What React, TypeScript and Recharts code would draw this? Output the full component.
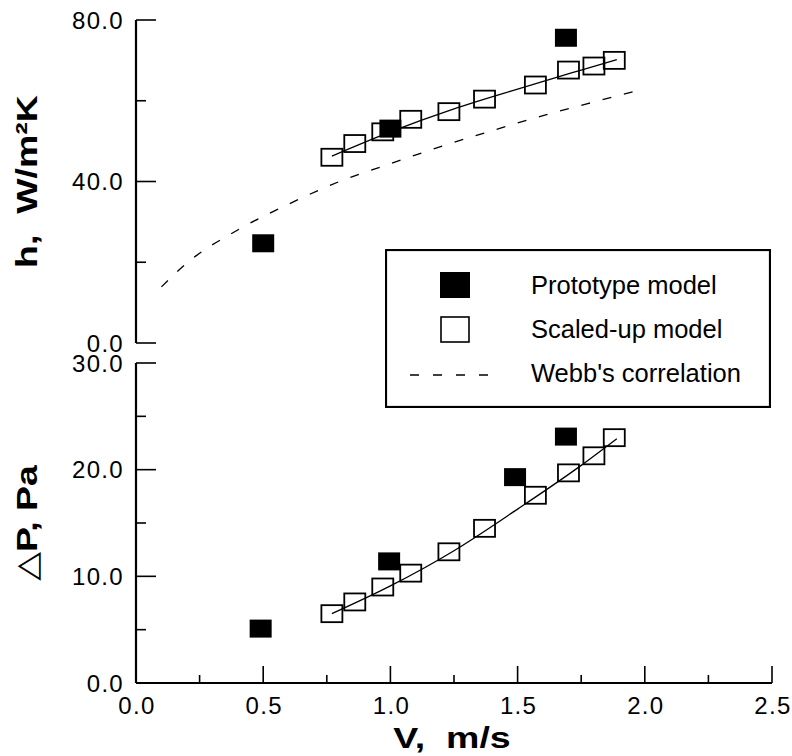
import { ComposedChart, Scatter, Line, XAxis, YAxis, Legend } from 'recharts';

const protoTopV = [0.5, 1.0, 1.69];
const protoTopH = [24.7, 53.1, 75.6];
const protoBotV = [0.49, 0.995, 1.49, 1.69];
const protoBotDP = [5.1, 11.4, 19.3, 23.1];

const scaledV = [0.77, 0.86, 0.97, 1.08, 1.23, 1.37, 1.57, 1.7, 1.8, 1.88];
const scaledH = [46.0, 49.4, 52.3, 55.4, 57.3, 60.4, 63.9, 67.6, 68.6, 70.0];
const scaledDP = [6.5, 7.6, 9.0, 10.3, 12.3, 14.5, 17.6, 19.7, 21.3, 23.0];

const fitV = [0.77, 1.0, 1.25, 1.5, 1.75, 1.89];
const fitH = [46.3, 52.3, 58.0, 62.9, 67.6, 70.2];
const fitDP = [6.5, 9.1, 12.4, 16.3, 20.4, 22.9];

const webbV = [0.1, 0.2, 0.4, 0.6, 0.8, 1.0, 1.2, 1.4, 1.6, 1.8, 1.97];
const webbH = [13.9, 19.8, 28.0, 34.4, 40.0, 44.4, 48.7, 52.6, 56.3, 59.7, 62.5];

const xTicks = [0, 0.25, 0.5, 0.75, 1.0, 1.25, 1.5, 1.75, 2.0, 2.25, 2.5];
const hTicks = [0, 20, 40, 60, 80];
const hMajor = [0, 40, 80];
const dpTicks = [0, 5, 10, 15, 20, 25, 30];
const dpMajor = [0, 10, 20, 30];

const legendLabels = ['Prototype model', 'Scaled-up model', "Webb's correlation"];

const zip = (xs: number[], ys: number[]) => xs.map((x, i) => ({ x, y: ys[i] }));

const FONT = '"Liberation Sans", Arial, Helvetica, sans-serif';
const AXIS = { stroke: '#000', strokeWidth: 2.2 };

const FilledBox = (p: any) => (
  <rect x={p.cx - 11} y={p.cy - 9} width={22} height={18} fill="#000" />
);
const OpenBox = (p: any) => (
  <rect x={p.cx - 10.5} y={p.cy - 8.5} width={21} height={17} fill="none" stroke="#000" strokeWidth={1.8} />
);

const YTick = (props: any, majors: number[]) => {
  const { x, y, payload } = props;
  const major = majors.includes(payload.value);
  return (
    <g>
      <line x1={x} x2={x + (major ? 20 : 10)} y1={y} y2={y} stroke="#000" strokeWidth={1.6} />
      {major && (
        <text x={x - 12} y={y} dy="0.36em" textAnchor="end" fontSize={24} letterSpacing={1.3} fontFamily={FONT} fill="#000">
          {payload.value.toFixed(1)}
        </text>
      )}
    </g>
  );
};

const XTick = (props: any) => {
  const { x, y, payload } = props;
  const major = Math.abs(payload.value * 2 - Math.round(payload.value * 2)) < 1e-6;
  return (
    <g>
      <line x1={x} x2={x} y1={y} y2={y - (major ? 17 : 8)} stroke="#000" strokeWidth={1.6} />
      {major && (
        <text x={x + 1} y={y + 31} textAnchor="middle" fontSize={24} letterSpacing={1.3} fontFamily={FONT} fill="#000">
          {payload.value.toFixed(1)}
        </text>
      )}
    </g>
  );
};

const YTitle = (vb: any, parts: React.ReactNode) => (
  <g transform={`translate(37, ${vb.y + vb.height / 2}) rotate(-90) scale(1.25, 1)`}>
    <text x={0} y={0} textAnchor="middle" fontSize={30} fontWeight="bold" fontFamily={FONT} fill="#000" style={{ whiteSpace: 'pre' }}>
      {parts}
    </text>
  </g>
);

const LegendBox = () => (
  <svg width={386} height={159} style={{ display: 'block' }}>
    <rect x={1} y={1} width={384} height={157} fill="#fff" stroke="#000" strokeWidth={2.2} />
    <rect x={55} y={23} width={30} height={26} fill="#000" />
    <rect x={56} y={68} width={28} height={25} fill="#fff" stroke="#000" strokeWidth={1.6} />
    <line x1={25} x2={105} y1={126} y2={126} stroke="#000" strokeWidth={1.3} strokeDasharray="9 14" />
    {legendLabels.map((t, i) => (
      <text key={t} x={146} y={45 + i * 44} fontSize={25.5} fontFamily={FONT} fill="#000">
        {t}
      </text>
    ))}
  </svg>
);

export default function App() {
  return (
    <div style={{ position: 'absolute', left: 0, top: 0, width: 792, height: 756, background: '#fff' }}>
      <div style={{ position: 'absolute', left: 0, top: 0 }}>
        <ComposedChart width={792} height={363} margin={{ top: 20, right: 20, bottom: 20, left: 0 }}>
          <XAxis type="number" dataKey="x" domain={[0, 2.5]} orientation="top" height={0} tick={false} tickLine={false} axisLine={AXIS} />
          <YAxis
            type="number"
            dataKey="y"
            domain={[0, 80]}
            ticks={hTicks}
            interval={0}
            width={136}
            tickSize={0}
            tickMargin={0}
            tickLine={false}
            axisLine={AXIS}
            tick={(p: any) => YTick(p, hMajor)}
            label={{ content: (p: any) => YTitle(p.viewBox, 'h,  W/m²K') }}
          />
          <YAxis yAxisId="r" orientation="right" type="number" domain={[0, 80]} width={0} tick={false} tickLine={false} axisLine={AXIS} />
          <Line data={zip(webbV, webbH)} dataKey="y" type="monotone" stroke="#000" strokeWidth={1.3} strokeDasharray="9 13" dot={false} isAnimationActive={false} />
          <Scatter data={zip(scaledV, scaledH)} shape={OpenBox} isAnimationActive={false} />
          <Line data={zip(fitV, fitH)} dataKey="y" type="monotone" stroke="#000" strokeWidth={1.3} dot={false} isAnimationActive={false} />
          <Scatter data={zip(protoTopV, protoTopH)} shape={FilledBox} isAnimationActive={false} />
        </ComposedChart>
      </div>
      <div style={{ position: 'absolute', left: 0, top: 343 }}>
        <ComposedChart width={792} height={413} margin={{ top: 20, right: 20, bottom: 0, left: 0 }}>
          <XAxis
            type="number"
            dataKey="x"
            domain={[0, 2.5]}
            ticks={xTicks}
            interval={0}
            height={73}
            tickSize={0}
            tickMargin={0}
            tickLine={false}
            axisLine={AXIS}
            tick={XTick}
            label={{
              content: () => (
                <g transform="translate(452, 405) scale(1.25, 1)">
                  <text x={0} y={0} textAnchor="middle" fontSize={30} fontWeight="bold" fontFamily={FONT} fill="#000" style={{ whiteSpace: 'pre' }}>
                    V,  m/s
                  </text>
                </g>
              ),
            }}
          />
          <YAxis
            type="number"
            dataKey="y"
            domain={[0, 30]}
            ticks={dpTicks}
            interval={0}
            width={136}
            tickSize={0}
            tickMargin={0}
            tickLine={false}
            axisLine={AXIS}
            tick={(p: any) => YTick(p, dpMajor)}
            label={{
              content: (p: any) =>
                YTitle(p.viewBox, [
                  <tspan key="d" fontWeight="normal" fontFamily="DejaVu Sans">△</tspan>,
                  'P, Pa',
                ]),
            }}
          />
          <YAxis yAxisId="r" orientation="right" type="number" domain={[0, 30]} width={0} tick={false} tickLine={false} axisLine={AXIS} />
          <Scatter data={zip(scaledV, scaledDP)} shape={OpenBox} isAnimationActive={false} />
          <Line data={zip(fitV, fitDP)} dataKey="y" type="monotone" stroke="#000" strokeWidth={1.3} dot={false} isAnimationActive={false} />
          <Scatter data={zip(protoBotV, protoBotDP)} shape={FilledBox} isAnimationActive={false} />
          <Legend
            layout="vertical"
            align="center"
            verticalAlign="middle"
            wrapperStyle={{ left: 385, top: -94, width: 386, height: 159 }}
            content={LegendBox}
          />
        </ComposedChart>
      </div>
    </div>
  );
}
